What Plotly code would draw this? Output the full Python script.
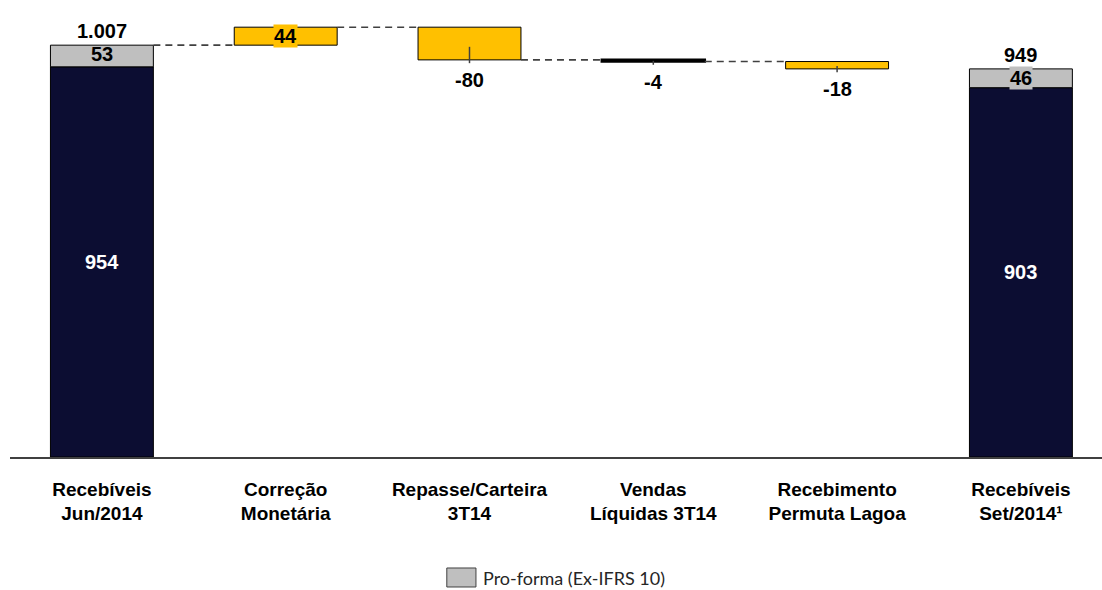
import plotly.graph_objects as go

# Recebíveis bridge (R$ milhões)
categories = ["Recebíveis<br>Jun/2014", "Correção<br>Monetária", "Repasse/Carteira<br>3T14",
              "Vendas<br>Líquidas 3T14", "Recebimento<br>Permuta Lagoa", "Recebíveis<br>Set/2014¹"]
opening_ifrs = 954
opening_proforma = 53
changes = [44, -80, -4, -18]
closing_ifrs = 903
closing_proforma = 46

NAVY = "#0C0D32"
GREY = "#BFBFBF"
GOLD = "#FFC000"
LINE = "#404040"
BAR_W = 0.56
FONT = "Liberation Sans, Arial, sans-serif"


def fmt(v):
    return f"{v:,}".replace(",", ".")


x_all = list(range(len(categories)))
x_total = [0, 5]
x_delta = [1, 2, 3, 4]

opening_total = opening_ifrs + opening_proforma
closing_total = closing_ifrs + closing_proforma

# running levels of the bridge
levels = [opening_total]
for d in changes:
    levels.append(levels[-1] + d)
bases = [min(levels[i], levels[i + 1]) for i in range(len(changes))]
heights = [abs(d) for d in changes]
# very thin steps get a heavier outline so they stay visible
outline = [2.6 if h < 10 else 1 for h in heights]

fig = go.Figure()
fig.add_bar(x=x_total, y=[opening_ifrs, closing_ifrs], width=BAR_W,
            marker=dict(color=NAVY, line=dict(color="#000000", width=1)),
            showlegend=False, hoverinfo="skip")
fig.add_bar(x=x_total, y=[opening_proforma, closing_proforma],
            base=[opening_ifrs, closing_ifrs], width=BAR_W,
            marker=dict(color=GREY, line=dict(color="#000000", width=1)),
            name="Pro-forma (Ex-IFRS 10)", showlegend=False, hoverinfo="skip")
fig.add_bar(x=x_delta, y=heights, base=bases, width=BAR_W,
            marker=dict(color=GOLD, line=dict(color="#000000", width=outline)),
            showlegend=False, hoverinfo="skip")

# dashed connectors between consecutive bars
for i in range(len(changes)):
    fig.add_shape(type="line", xref="x", yref="y",
                  x0=i + BAR_W / 2, x1=i + 1 - BAR_W / 2, y0=levels[i], y1=levels[i],
                  line=dict(color=LINE, width=1.6, dash="7px,5px"))

annotations = []
vfont = dict(family=FONT, size=20, color="#000000")

# totals above the end columns
for xi, tot in zip(x_total, [opening_total, closing_total]):
    annotations.append(dict(x=xi, y=tot, text=f"<b>{fmt(tot)}</b>", showarrow=False,
                            yanchor="bottom", yshift=1, font=vfont))
# pro-forma segment values
annotations.append(dict(x=0, y=opening_ifrs + opening_proforma / 2, text=f"<b>{opening_proforma}</b>",
                        showarrow=False, font=vfont, yshift=2))
annotations.append(dict(x=5, y=closing_ifrs + closing_proforma / 2, text=f"<b>{closing_proforma}</b>",
                        showarrow=False, font=vfont, bgcolor=GREY, borderpad=0))
# IFRS values inside the navy columns
for xi, v in zip(x_total, [opening_ifrs, closing_ifrs]):
    annotations.append(dict(x=xi, y=v / 2, text=f"<b>{fmt(v)}</b>", showarrow=False,
                            font=dict(family=FONT, size=20, color="#FFFFFF")))

# change labels
for xi, d, b, h in zip(x_delta, changes, bases, heights):
    if d > 0:
        annotations.append(dict(x=xi, y=b + h / 2, text=f"<b>{d}</b>", showarrow=False,
                                font=vfont, bgcolor=GOLD, borderpad=0))
    else:
        annotations.append(dict(x=xi, y=b, text=f"<b>{d}</b>", showarrow=False,
                                yanchor="top", yshift=-7, font=vfont))
        fig.add_shape(type="line", xref="x", yref="y", x0=xi, x1=xi,
                      y0=b - 8, y1=b + min(h / 2.5, 32),
                      line=dict(color=LINE, width=1.5))

# legend swatch and text
fig.add_shape(type="rect", xref="paper", yref="paper", x0=0.4, x1=0.4267, y0=-0.2908, y1=-0.2483,
              line=dict(color="#404040", width=1), fillcolor=GREY)
annotations.append(dict(xref="paper", yref="paper", x=0.4313, y=-0.2696, text="Pro-forma (Ex-IFRS 10)",
                        showarrow=False, xanchor="left", yanchor="middle",
                        font=dict(family="Lato, sans-serif", size=18, color="#262626")))

fig.update_layout(
    width=1102, height=590,
    margin=dict(l=10, r=0, t=10, b=133),
    plot_bgcolor="#FFFFFF", paper_bgcolor="#FFFFFF",
    barmode="overlay",
    annotations=annotations,
    xaxis=dict(tickmode="array", tickvals=x_all, ticktext=[f"<b>{c}</b>" for c in categories],
               range=[-0.5, -0.5 + 1092 / 183.8], showgrid=False, zeroline=False,
               showline=True, linecolor=LINE, linewidth=1.5, ticks="",
               ticklabelstandoff=14,
               tickfont=dict(family=FONT, size=19, color="#000000")),
    yaxis=dict(range=[0, 1093], visible=False, showgrid=False, zeroline=False),
)

fig.write_html("out.html")
